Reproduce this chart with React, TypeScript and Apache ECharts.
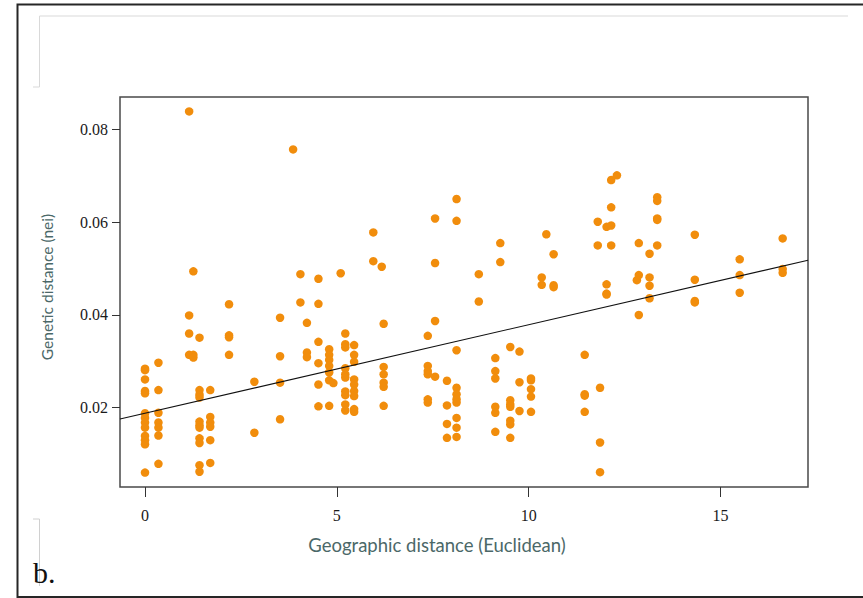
import React, { useEffect, useRef } from "react";
import * as echarts from "echarts";

// Pairwise geographic distance (Euclidean) between sampling sites
const geoDistance: number[] = [
  0, 0, 0, 0, 0, 0, 0, 0, 0, 0, 0, 0, 0,
  0.35, 0.35, 0.35, 0.35, 0.35, 0.35, 0.35,
  1.15, 1.15, 1.15, 1.15,
  1.26, 1.26, 1.26,
  1.42, 1.42, 1.42, 1.42, 1.42, 1.42, 1.42, 1.42, 1.42, 1.42, 1.42,
  1.7, 1.7, 1.7, 1.7, 1.7, 1.7,
  2.19, 2.19, 2.19, 2.19,
  2.85, 2.85,
  3.52, 3.52, 3.52, 3.52,
  3.86,
  4.05, 4.05,
  4.22, 4.22, 4.22,
  4.52, 4.52, 4.52, 4.52, 4.52, 4.52,
  4.8, 4.8, 4.8, 4.8, 4.8, 4.8, 4.8,
  4.91,
  5.1,
  5.22, 5.22, 5.22, 5.22, 5.22, 5.22, 5.22, 5.22, 5.22, 5.22,
  5.45, 5.45, 5.45, 5.45, 5.45, 5.45, 5.45, 5.45, 5.45,
  5.95, 5.95,
  6.17,
  6.22, 6.22, 6.22, 6.22, 6.22, 6.22,
  7.37, 7.37, 7.37, 7.37, 7.37, 7.37,
  7.56, 7.56, 7.56, 7.56,
  7.87, 7.87, 7.87, 7.87,
  8.12, 8.12, 8.12, 8.12, 8.12, 8.12, 8.12, 8.12, 8.12, 8.12,
  8.7, 8.7,
  9.13, 9.13, 9.13, 9.13, 9.13, 9.13,
  9.26, 9.26,
  9.52, 9.52, 9.52, 9.52, 9.52, 9.52, 9.52,
  9.76, 9.76, 9.76,
  10.06, 10.06, 10.06, 10.06, 10.06,
  10.34, 10.34,
  10.46,
  10.65, 10.65, 10.65,
  11.46, 11.46, 11.46, 11.46,
  11.8, 11.8,
  11.86, 11.86, 11.86,
  12.03, 12.03, 12.03, 12.03,
  12.15, 12.15, 12.15, 12.15,
  12.3,
  12.82,
  12.87, 12.87, 12.87,
  13.15, 13.15, 13.15, 13.15,
  13.35, 13.35, 13.35, 13.35, 13.35,
  14.33, 14.33, 14.33, 14.33,
  15.5, 15.5, 15.5,
  16.62, 16.62, 16.62,
];

// Nei's genetic distance for the same pairs, in the same order
const geneticDistance: number[] = [
  0.0284, 0.0281, 0.0261, 0.0236, 0.0231, 0.0188, 0.0178, 0.0168, 0.0157, 0.0139, 0.013, 0.0121, 0.006,
  0.0297, 0.0238, 0.0189, 0.0168, 0.0157, 0.014, 0.0079,
  0.0839, 0.0399, 0.036, 0.0314,
  0.0494, 0.0314, 0.0308,
  0.0351, 0.0238, 0.0228, 0.0222, 0.017, 0.0162, 0.0157, 0.0134, 0.0124, 0.0076, 0.0062,
  0.0238, 0.018, 0.0168, 0.0159, 0.013, 0.0081,
  0.0423, 0.0356, 0.0352, 0.0314,
  0.0256, 0.0146,
  0.0394, 0.0311, 0.0254, 0.0175,
  0.0757,
  0.0488, 0.0427,
  0.0383, 0.0319, 0.0309,
  0.0478, 0.0424, 0.0342, 0.0296, 0.025, 0.0203,
  0.0326, 0.0314, 0.0303, 0.029, 0.0276, 0.0259, 0.0204,
  0.0253,
  0.049,
  0.036, 0.0337, 0.033, 0.0285, 0.0272, 0.0265, 0.0235, 0.0227, 0.0207, 0.0194,
  0.0335, 0.0314, 0.0299, 0.0261, 0.025, 0.0236, 0.0225, 0.0197, 0.0191,
  0.0578, 0.0516,
  0.0504,
  0.0381, 0.0288, 0.0272, 0.0254, 0.0245, 0.0204,
  0.0355, 0.029, 0.0279, 0.0272, 0.0218, 0.0211,
  0.0608, 0.0512, 0.0387, 0.0267,
  0.0258, 0.0205, 0.0165, 0.0135,
  0.065, 0.0603, 0.0324, 0.0243, 0.0229, 0.0218, 0.0211, 0.0178, 0.0157, 0.0137,
  0.0488, 0.0429,
  0.0307, 0.0279, 0.0263, 0.0202, 0.0189, 0.0148,
  0.0555, 0.0514,
  0.0331, 0.0216, 0.0207, 0.0202, 0.0172, 0.0164, 0.0135,
  0.0321, 0.0255, 0.0193,
  0.0263, 0.0259, 0.024, 0.0224, 0.0191,
  0.0481, 0.0465,
  0.0574,
  0.0531, 0.0464, 0.046,
  0.0314, 0.0229, 0.0226, 0.0191,
  0.0601, 0.055,
  0.0243, 0.0125, 0.0061,
  0.059, 0.0466, 0.0446, 0.0444,
  0.0691, 0.0632, 0.0593, 0.055,
  0.0701,
  0.0475,
  0.0555, 0.0486, 0.04,
  0.0532, 0.0481, 0.0463, 0.0436,
  0.0654, 0.0646, 0.0608, 0.0605, 0.055,
  0.0573, 0.0476, 0.043, 0.0427,
  0.052, 0.0486, 0.0448,
  0.0565, 0.0499, 0.0491,
];

// Least-squares fit: genetic = intercept + slope * geographic
const fitIntercept = 0.0188;
const fitSlope = 0.00191;

const xTicks = [0, 5, 10, 15];
const yTicks = [0.02, 0.04, 0.06, 0.08];

// Plot ranges padded 4% beyond the data, as in base graphics
const xMin = -0.652;
const xMax = 17.28;
const yMin = 0.0029;
const yMax = 0.0870;

const ORANGE = "#F18D0C";
const TEAL = "#4b6868";
const SERIF = "'Liberation Serif', 'DejaVu Serif', serif";
const SANS = "Lato, 'Open Sans', sans-serif";

export default function App() {
  const ref = useRef<HTMLDivElement>(null);

  useEffect(() => {
    if (!ref.current) return;
    const chart = echarts.init(ref.current, null, { renderer: "svg" });

    const points = geoDistance.map((x, i) => [x, geneticDistance[i]]);
    const fitLine = [
      [xMin, fitIntercept + fitSlope * xMin],
      [xMax, fitIntercept + fitSlope * xMax],
    ];

    chart.setOption({
      animation: false,
      backgroundColor: "#ffffff",
      grid: {
        left: 120,
        top: 97,
        width: 688,
        height: 390,
        show: true,
        borderColor: "#4a4a4a",
        borderWidth: 1.5,
        backgroundColor: "transparent",
      },
      xAxis: {
        type: "value",
        position: "bottom",
        min: xMin,
        max: xMax,
        axisLine: { show: false, onZero: false },
        splitLine: { show: false },
        axisTick: {
          show: true,
          customValues: xTicks,
          length: 10,
          lineStyle: { color: "#333", width: 1 },
        },
        axisLabel: {
          customValues: xTicks,
          margin: 20,
          color: "#1a1a1a",
          fontFamily: SERIF,
          fontSize: 16,
          formatter: (v: number) => String(v),
        },
      },
      yAxis: {
        type: "value",
        position: "left",
        min: yMin,
        max: yMax,
        axisLine: { show: false, onZero: false },
        splitLine: { show: false },
        axisTick: {
          show: true,
          customValues: yTicks,
          length: 8,
          lineStyle: { color: "#333", width: 1 },
        },
        axisLabel: {
          customValues: yTicks,
          margin: 12,
          color: "#1a1a1a",
          fontFamily: SERIF,
          fontSize: 16,
          formatter: (v: number) => v.toFixed(2),
        },
      },
      series: [
        {
          type: "scatter",
          data: points,
          symbol: "circle",
          symbolSize: 8.5,
          itemStyle: { color: ORANGE, opacity: 1 },
          z: 2,
        },
        {
          type: "line",
          data: fitLine,
          symbol: "none",
          clip: true,
          lineStyle: { color: "#111", width: 1.1 },
          z: 3,
        },
      ],
      graphic: [
        {
          type: "rect",
          shape: { x: 17.5, y: 4.5, width: 880, height: 592.5 },
          style: { fill: "none", stroke: "#262626", lineWidth: 2 },
          silent: true,
        },
        {
          type: "polyline",
          shape: { points: [[33, 87], [39.5, 87], [39.5, 16], [848, 16]] },
          style: { fill: "none", stroke: "#d9d9d9", lineWidth: 1 },
          silent: true,
        },
        {
          type: "polyline",
          shape: { points: [[33, 519], [39.5, 519], [39.5, 586]] },
          style: { fill: "none", stroke: "#d0d0d0", lineWidth: 1 },
          silent: true,
        },
        {
          type: "text",
          x: 47,
          y: 287,
          rotation: Math.PI / 2,
          style: {
            text: "Genetic distance (nei)",
            fill: TEAL,
            font: `15.5px ${SANS}`,
            align: "center",
            verticalAlign: "middle",
          },
        },
        {
          type: "text",
          x: 437,
          y: 545,
          style: {
            text: "Geographic distance (Euclidean)",
            fill: TEAL,
            font: `18.5px ${SANS}`,
            align: "center",
            verticalAlign: "middle",
          },
        },
        {
          type: "text",
          x: 33,
          y: 572,
          style: {
            text: "b.",
            fill: "#111",
            font: `30px ${SERIF}`,
            align: "left",
            verticalAlign: "middle",
          },
        },
      ],
    });

    return () => chart.dispose();
  }, []);

  return (
    <div
      ref={ref}
      style={{ position: "absolute", left: 0, top: 0, width: 863, height: 598 }}
    />
  );
}
